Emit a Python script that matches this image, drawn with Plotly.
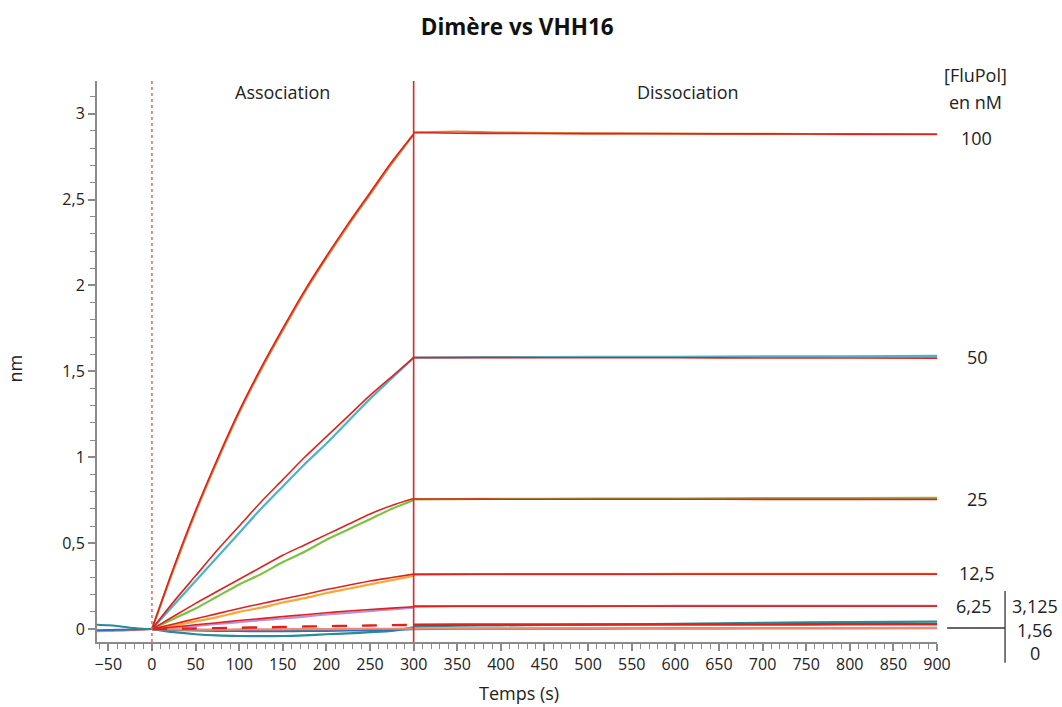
import plotly.graph_objects as go

# ---------------- data ----------------
concentrations = ["100", "50", "25", "12,5", "6,25", "3,125", "1,56", "0"]

t_base = [-63, -50, -40, -30, -20, -10, 0]
t_assoc = [0, 25, 50, 75, 100, 125, 150, 175, 200, 225, 250, 275, 300]
t_dissoc = [300, 350, 400, 500, 600, 700, 800, 900]

# measured data, association phase
data_assoc_100 = [0, 0.35, 0.68, 0.98, 1.26, 1.51, 1.74, 1.96, 2.16, 2.35, 2.53, 2.71, 2.88]
data_assoc_50 = [0, 0.14, 0.28, 0.42, 0.56, 0.70, 0.83, 0.96, 1.08, 1.21, 1.34, 1.46, 1.58]
data_assoc_25 = [0, 0.06, 0.12, 0.19, 0.26, 0.32, 0.39, 0.45, 0.52, 0.58, 0.64, 0.70, 0.75]
data_assoc_12 = [0, 0.02, 0.045, 0.07, 0.10, 0.125, 0.155, 0.18, 0.21, 0.235, 0.26, 0.285, 0.31]
data_assoc_6 = [0, 0.008, 0.018, 0.03, 0.04, 0.052, 0.062, 0.073, 0.085, 0.095, 0.105, 0.115, 0.125]
data_assoc_3 = [0, -0.018, -0.03, -0.037, -0.04, -0.041, -0.04, -0.036, -0.03, -0.025, -0.018, -0.01, 0.01]
data_assoc_1 = [0, -0.005, -0.008, -0.01, -0.011, -0.012, -0.012, -0.011, -0.01, -0.008, -0.006, -0.004, 0.0]
data_assoc_0 = [0, -0.002, -0.003, -0.003, -0.002, -0.002, -0.001, 0.0, 0.0, 0.001, 0.002, 0.002, 0.003]

# measured data, baseline
data_base_3 = [0.025, 0.022, 0.018, 0.012, 0.006, 0.002, 0]
data_base_1 = [-0.006, -0.005, -0.004, -0.003, -0.002, -0.001, 0]
data_base_0 = [-0.012, -0.011, -0.01, -0.008, -0.006, -0.003, 0]

# measured data, dissociation phase
data_dissoc_100 = [2.89, 2.896, 2.89, 2.885, 2.884, 2.882, 2.881, 2.88]
data_dissoc_50 = [1.58, 1.582, 1.583, 1.584, 1.585, 1.587, 1.588, 1.59]
data_dissoc_25 = [0.755, 0.757, 0.758, 0.759, 0.76, 0.762, 0.763, 0.764]
data_dissoc_12 = [0.315, 0.318, 0.32, 0.32, 0.321, 0.321, 0.322, 0.322]
data_dissoc_6 = [0.13, 0.133, 0.134, 0.134, 0.135, 0.135, 0.136, 0.136]
data_dissoc_3 = [0.015, 0.02, 0.022, 0.026, 0.031, 0.037, 0.041, 0.044]
data_dissoc_1 = [0.0, 0.002, 0.002, 0.003, 0.004, 0.005, 0.006, 0.007]
data_dissoc_0 = [0.003, 0.004, 0.004, 0.005, 0.005, 0.006, 0.006, 0.006]

# fitted curves
fit_assoc_100 = [0, 0.36, 0.69, 0.99, 1.27, 1.52, 1.75, 1.97, 2.17, 2.36, 2.54, 2.72, 2.88]
fit_assoc_50 = [0, 0.16, 0.31, 0.46, 0.60, 0.74, 0.87, 1.00, 1.12, 1.24, 1.36, 1.47, 1.58]
fit_assoc_25 = [0, 0.075, 0.15, 0.22, 0.29, 0.36, 0.43, 0.49, 0.55, 0.61, 0.67, 0.72, 0.76]
fit_assoc_12 = [0, 0.03, 0.06, 0.09, 0.12, 0.148, 0.175, 0.202, 0.23, 0.255, 0.28, 0.30, 0.32]
fit_assoc_6 = [0, 0.012, 0.025, 0.037, 0.05, 0.061, 0.073, 0.084, 0.095, 0.105, 0.114, 0.122, 0.13]
fit_assoc_low = [0, 0.002, 0.004, 0.006, 0.008, 0.01, 0.012, 0.015, 0.017, 0.019, 0.021, 0.023, 0.025]

fit_dissoc_100 = [2.89, 2.886, 2.885, 2.884, 2.883, 2.882, 2.881, 2.88]
fit_dissoc_50 = [1.58, 1.58, 1.58, 1.579, 1.579, 1.578, 1.578, 1.577]
fit_dissoc_25 = [0.757, 0.757, 0.756, 0.756, 0.756, 0.755, 0.755, 0.755]
fit_dissoc_12 = [0.32, 0.32, 0.32, 0.32, 0.32, 0.32, 0.32, 0.32]
fit_dissoc_6 = [0.134, 0.134, 0.134, 0.134, 0.134, 0.134, 0.134, 0.134]
fit_dissoc_low = [0.025, 0.026, 0.026, 0.027, 0.027, 0.027, 0.028, 0.028]

# ---------------- styling ----------------
FIT = "#e0221c"
FONT = "Open Sans, Noto Sans, sans-serif"
data_colors = {
    "100": "#d9843e", "50": "#4bb4cc", "25": "#7cc242", "12,5": "#f5a83a",
    "6,25": "#b892e0", "3,125": "#2b8a93", "1,56": "#2f6fbf", "0": "#f08a6a",
}

fig = go.Figure()

def add_line(x, y, color, width, dash="solid"):
    fig.add_trace(go.Scatter(x=x, y=y, mode="lines", showlegend=False,
                             hoverinfo="skip",
                             line=dict(color=color, width=width, dash=dash,
                                       shape="spline", smoothing=0.8)))

# baselines
add_line(t_base, data_base_0, data_colors["0"], 2)
add_line(t_base, data_base_1, data_colors["1,56"], 2)
add_line(t_base, data_base_3, data_colors["3,125"], 2)

# data traces
assoc = [data_assoc_100, data_assoc_50, data_assoc_25, data_assoc_12,
         data_assoc_6, data_assoc_3, data_assoc_1, data_assoc_0]
dissoc = [data_dissoc_100, data_dissoc_50, data_dissoc_25, data_dissoc_12,
          data_dissoc_6, data_dissoc_3, data_dissoc_1, data_dissoc_0]
for name, ya, yd in zip(concentrations, assoc, dissoc):
    add_line(t_assoc, ya, data_colors[name], 2.2)
    add_line(t_dissoc, yd, data_colors[name], 2.2)

# fits
for ya in [fit_assoc_100, fit_assoc_50, fit_assoc_25, fit_assoc_12, fit_assoc_6]:
    add_line(t_assoc, ya, FIT, 1.6)
add_line(t_assoc, fit_assoc_low, FIT, 2.4, dash="longdash")
for yd in [fit_dissoc_100, fit_dissoc_50, fit_dissoc_25, fit_dissoc_12, fit_dissoc_6]:
    add_line(t_dissoc, yd, FIT, 1.6)
add_line(t_dissoc, fit_dissoc_low, FIT, 2.6)

# phase markers
fig.add_shape(type="line", xref="x", yref="paper", x0=0, x1=0, y0=0, y1=1,
              line=dict(color="#d86a6a", width=1.5, dash="dot"))
fig.add_shape(type="line", xref="x", yref="paper", x0=300, x1=300, y0=0, y1=1,
              line=dict(color="#d42a2a", width=1.6))

# bracket for the low concentrations
fig.add_shape(type="line", xref="paper", yref="paper", x0=1.081, x1=1.081,
              y0=0.091, y1=-0.037, line=dict(color="#333333", width=1.3))
fig.add_shape(type="line", xref="paper", yref="paper", x0=1.012, x1=1.081,
              y0=0.025, y1=0.025, line=dict(color="#333333", width=1.3))

ann = dict(showarrow=False, xanchor="center", yanchor="middle",
           font=dict(family=FONT, size=18, color="#222222"))
fig.add_annotation(x=150, y=3.128, xref="x", yref="y", text="Association", **ann)
fig.add_annotation(x=614, y=3.128, xref="x", yref="y", text="Dissociation", **ann)
fig.add_annotation(x=1.046, y=1.011, xref="paper", yref="paper", text="[FluPol]", **ann)
fig.add_annotation(x=1.046, y=0.963, xref="paper", yref="paper", text="en nM", **ann)

right_labels = [("100", 1.047, 0.899), ("50", 1.048, 0.508), ("25", 1.048, 0.255),
                ("12,5", 1.048, 0.123), ("6,25", 1.044, 0.064),
                ("3,125", 1.117, 0.064), ("1,56", 1.117, 0.021), ("0", 1.117, -0.02)]
for txt, xp, yp in right_labels:
    fig.add_annotation(x=xp, y=yp, xref="paper", yref="paper", text=txt, **ann)

fig.add_annotation(x=-0.098, y=0.487, xref="paper", yref="paper", text="nm",
                   textangle=-90, **ann)
fig.add_annotation(x=0.502, y=-0.091, xref="paper", yref="paper", text="Temps (s)", **ann)

axis_common = dict(showgrid=False, zeroline=False, showline=True,
                   linecolor="#8a8a8a", linewidth=2, ticks="outside",
                   tickcolor="#8a8a8a", tickwidth=1.5, ticklen=7,
                   tickfont=dict(family=FONT, size=16, color="#222222"))

fig.update_layout(
    width=1062, height=707,
    margin=dict(l=97, r=125, t=81, b=65),
    paper_bgcolor="white", plot_bgcolor="white",
    title=dict(text="<b>Dimère vs VHH16</b>", x=0.487, xanchor="center",
               y=0.962, yanchor="middle",
               font=dict(family=FONT, size=22.5, color="#111111")),
    xaxis=dict(range=[-63, 900], tickmode="linear", tick0=-50, dtick=50,
               minor=dict(dtick=10, tick0=0, ticks="outside", ticklen=5,
                          tickcolor="#8a8a8a", tickwidth=1.2),
               **axis_common),
    yaxis=dict(range=[-0.075, 3.19], tickmode="array",
               tickvals=[0, 0.5, 1, 1.5, 2, 2.5, 3],
               ticktext=["0", "0,5", "1", "1,5", "2", "2,5", "3"],
               minor=dict(dtick=0.1, tick0=0, ticks="outside", ticklen=5,
                          tickcolor="#8a8a8a", tickwidth=1.2),
               **axis_common),
)

fig.write_html("out.html", config={"displayModeBar": False},
               post_script="document.body.style.margin='0';")
